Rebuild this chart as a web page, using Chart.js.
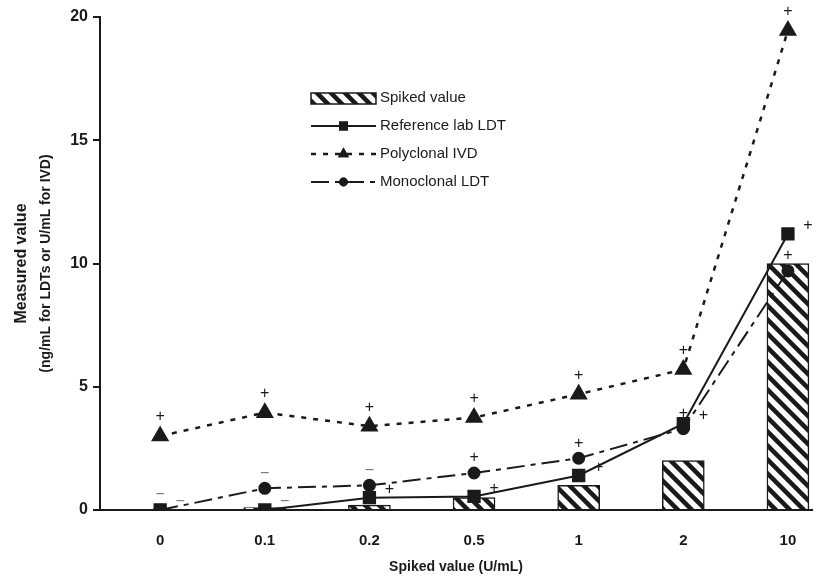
<!DOCTYPE html>
<html>
<head>
<meta charset="utf-8">
<script src="https://cdn.jsdelivr.net/npm/chart.js@4.4.1/dist/chart.umd.min.js"></script>
<style>
  body { margin: 0; background: #fff; }
  #wrap { width: 832px; height: 580px; }
</style>
</head>
<body>
<div id="wrap"><canvas id="spikeChart"></canvas></div>
<script>
// categories on the x axis (spiked value, U/mL)
var categories = ["0", "0.1", "0.2", "0.5", "1", "2", "10"];
var spikedValue = [0, 0.1, 0.2, 0.5, 1, 2, 10];
var referenceLab = [0, 0, 0.5, 0.55, 1.4, 3.5, 11.2];
var polyclonal = [3.0, 3.95, 3.4, 3.75, 4.7, 5.7, 19.45];
var monoclonal = [0, 0.88, 1.0, 1.5, 2.1, 3.3, 9.7];
// +/- result signs shown beside each point
var referenceSigns = ["\u2212", "\u2212", "+", "+", "+", "+", "+"];
var polyclonalSigns = ["+", "+", "+", "+", "+", "+", "+"];
var monoclonalSigns = ["\u2212", "\u2212", "\u2212", "+", "+", "+", "+"];
var yTicks = [0, 5, 10, 15, 20];

var FONT = "'Liberation Sans', Arial, sans-serif";
var INK = "#1a1a1a";

var canvas = document.getElementById("spikeChart");
var ctx = canvas.getContext("2d");

// diagonal hatch like the original bars
function makeHatch() {
  var p = document.createElement("canvas");
  p.width = 14; p.height = 14;
  var g = p.getContext("2d");
  g.fillStyle = "#fff";
  g.fillRect(0, 0, 14, 14);
  g.strokeStyle = INK;
  g.lineWidth = 4.5;
  g.beginPath();
  g.moveTo(-7, -7); g.lineTo(21, 21);
  g.moveTo(-7, 7); g.lineTo(7, 21);
  g.moveTo(7, -7); g.lineTo(21, 7);
  g.stroke();
  return ctx.createPattern(p, "repeat");
}
var hatch = makeHatch();

function xy(values) {
  return values.map(function(v, i) { return { x: i, y: v }; });
}

var extras = {
  id: "extras",
  afterDatasetsDraw: function(chart) {
    var c = chart.ctx;
    c.save();
    // +/- signs next to the points
    c.font = "16px " + FONT;
    c.textAlign = "center";
    c.textBaseline = "middle";
    chart.data.datasets.forEach(function(ds, di) {
      if (!ds.signs) return;
      var meta = chart.getDatasetMeta(di);
      meta.data.forEach(function(pt, i) {
        c.fillStyle = ds.signs[i] === "+" ? INK : "#777";
        c.fillText(ds.signs[i], pt.x + ds.signOffset[0], pt.y + ds.signOffset[1]);
      });
    });
    c.restore();
  },
  afterDraw: function(chart) {
    var c = chart.ctx;
    var area = chart.chartArea;
    c.save();
    // y axis title, two lines
    var cy = (area.top + area.bottom) / 2;
    c.fillStyle = INK;
    c.textAlign = "center";
    c.textBaseline = "middle";
    c.translate(22, cy);
    c.rotate(-Math.PI / 2);
    c.font = "bold 16px " + FONT;
    c.fillText("Measured value", 0, 0);
    c.font = "bold 14px " + FONT;
    c.fillText("(ng/mL for LDTs or U/mL for IVD)", 0, 24);
    c.restore();

    // legend
    c.save();
    var x0 = 311, x1 = 376, mid = 343.5, tx = 380;
    var rows = [98, 126, 154, 182];
    c.font = "15px " + FONT;
    c.textBaseline = "middle";
    c.textAlign = "left";
    chart.data.datasets.forEach(function(ds, i) {
      var y = rows[i];
      if (ds.type === "bar") {
        c.fillStyle = hatch;
        c.fillRect(x0, y - 5, x1 - x0, 11);
        c.strokeStyle = INK;
        c.lineWidth = 1.5;
        c.strokeRect(x0, y - 5, x1 - x0, 11);
      } else {
        c.strokeStyle = INK;
        c.lineWidth = ds.borderWidth;
        c.setLineDash(ds.borderDash || []);
        c.beginPath();
        c.moveTo(x0, y);
        c.lineTo(x1, y);
        c.stroke();
        c.setLineDash([]);
        Chart.helpers.drawPoint(c, {
          pointStyle: ds.pointStyle,
          radius: ds.pointRadius * 0.8,
          borderWidth: 0
        }, mid, y);
        c.fillStyle = INK;
        c.fill();
      }
      c.fillStyle = INK;
      c.fillText(ds.label, tx, y);
    });
    c.restore();
  }
};

new Chart(ctx, {
  type: "bar",
  data: {
    datasets: [
      {
        type: "bar",
        label: "Spiked value",
        data: xy(spikedValue),
        backgroundColor: hatch,
        borderColor: INK,
        borderWidth: 1.5,
        barThickness: 42,
        order: 10
      },
      {
        type: "line",
        label: "Reference lab LDT",
        data: xy(referenceLab),
        borderColor: INK,
        backgroundColor: INK,
        borderWidth: 2,
        pointStyle: "rect",
        pointRadius: 8,
        tension: 0,
        signs: referenceSigns,
        signOffset: [20, -8],
        order: 1
      },
      {
        type: "line",
        label: "Polyclonal IVD",
        data: xy(polyclonal),
        borderColor: INK,
        backgroundColor: INK,
        borderWidth: 2.5,
        borderDash: [5, 7],
        pointStyle: "triangle",
        pointRadius: 8,
        tension: 0,
        signs: polyclonalSigns,
        signOffset: [0, -19],
        order: 2
      },
      {
        type: "line",
        label: "Monoclonal LDT",
        data: xy(monoclonal),
        borderColor: INK,
        backgroundColor: INK,
        borderWidth: 2,
        borderDash: [18, 6, 5, 6],
        pointStyle: "circle",
        pointRadius: 5.5,
        tension: 0,
        signs: monoclonalSigns,
        signOffset: [0, -15],
        order: 3
      }
    ]
  },
  options: {
    responsive: true,
    maintainAspectRatio: false,
    animation: false,
    layout: { padding: { left: 0, right: 20, top: 17, bottom: 0 } },
    plugins: {
      legend: { display: false },
      tooltip: { enabled: false }
    },
    scales: {
      x: {
        type: "linear",
        min: -0.575,
        max: 6.23,
        offset: false,
        grid: { display: false },
        border: { color: INK, width: 2 },
        afterBuildTicks: function(s) {
          s.ticks = categories.map(function(c, i) { return { value: i }; });
        },
        afterFit: function(s) { s.height = 70; },
        ticks: {
          callback: function(v) { return categories[v]; },
          font: { family: FONT, size: 15, weight: "bold" },
          color: INK,
          padding: 14,
          maxRotation: 0,
          autoSkip: false
        },
        title: {
          display: true,
          text: "Spiked value (U/mL)",
          font: { family: FONT, size: 14, weight: "bold" },
          color: INK,
          padding: { top: 13 }
        }
      },
      y: {
        min: 0,
        max: 20,
        afterBuildTicks: function(s) {
          s.ticks = yTicks.map(function(v) { return { value: v }; });
        },
        afterFit: function(s) { s.width = 100; },
        grid: { drawOnChartArea: false, drawTicks: true, tickLength: 7, color: INK, lineWidth: 2 },
        border: { color: INK, width: 2 },
        ticks: {
          font: { family: FONT, size: 16, weight: "bold" },
          color: INK,
          padding: 5
        }
      }
    }
  },
  plugins: [extras]
});
</script>
</body>
</html>
